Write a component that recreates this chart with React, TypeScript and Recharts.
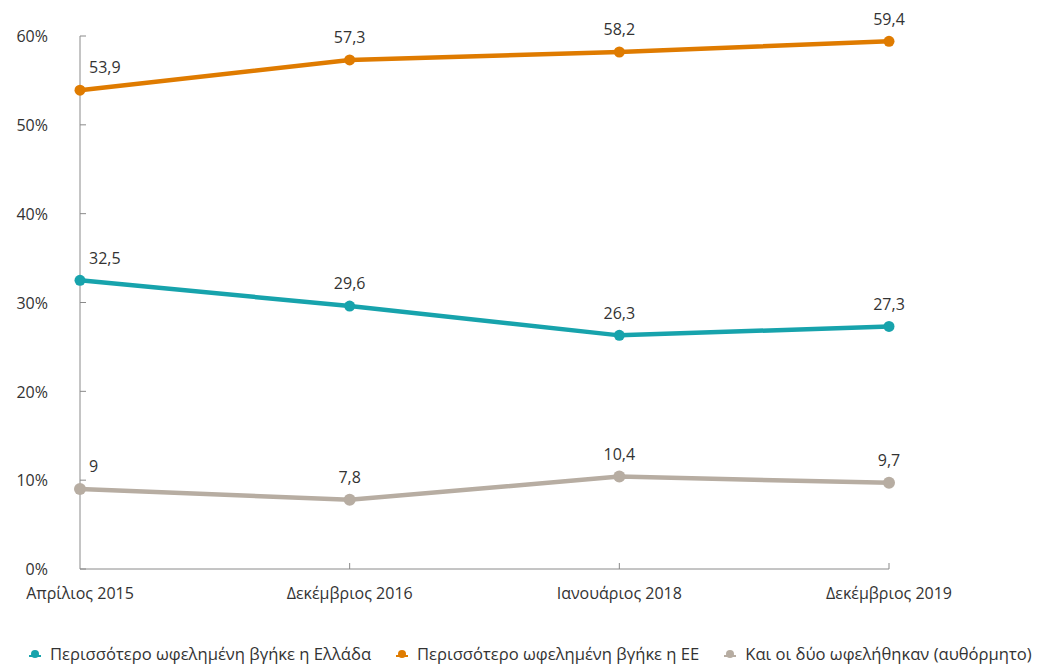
import React from "react";
import { LineChart, Line, XAxis, YAxis, Legend, LabelList } from "recharts";

const categories = ["Απρίλιος 2015", "Δεκέμβριος 2016", "Ιανουάριος 2018", "Δεκέμβριος 2019"];
const greece = [32.5, 29.6, 26.3, 27.3];
const eu = [53.9, 57.3, 58.2, 59.4];
const both = [9, 7.8, 10.4, 9.7];
const yTicks = [0, 10, 20, 30, 40, 50, 60];

const seriesNames = {
  greece: "Περισσότερο ωφελημένη βγήκε η Ελλάδα",
  eu: "Περισσότερο ωφελημένη βγήκε η ΕΕ",
  both: "Και οι δύο ωφελήθηκαν (αυθόρμητο)",
};

const COLORS = { greece: "#17a3ac", eu: "#df7b00", both: "#b7ada2" };
const FONT = "'Open Sans', sans-serif";
const TEXT = "#333333";
const AXIS = "#8a8a8a";

const data = categories.map((c, i) => ({
  name: c,
  greece: greece[i],
  eu: eu[i],
  both: both[i],
}));

const fmt = (v: number) => String(v).replace(".", ",");

const YTick = (props: any) => {
  const { x, y, payload } = props;
  return (
    <g>
      <line x1={x} x2={x + 6} y1={y} y2={y} stroke={AXIS} strokeWidth={1} />
      <text x={x - 32} y={y + 2} textAnchor="end" dominantBaseline="middle" fontFamily={FONT} fontSize={16} fill={TEXT}>
        {payload.value}%
      </text>
    </g>
  );
};

const XTick = (props: any) => {
  const { x, y, payload, index } = props;
  return (
    <g>
      {index > 0 && <line x1={x} x2={x} y1={y} y2={y - 6} stroke={AXIS} strokeWidth={1} />}
      <text x={x} y={y + 26} textAnchor="middle" dominantBaseline="middle" fontFamily={FONT} fontSize={16} fill={TEXT}>
        {payload.value}
      </text>
    </g>
  );
};

const ValueLabel = (props: any) => {
  const { x, y, value, index } = props;
  const first = index === 0;
  return (
    <text
      x={first ? x + 9 : x}
      y={y - 21}
      textAnchor={first ? "start" : "middle"}
      dominantBaseline="middle"
      fontFamily={FONT}
      fontSize={16}
      fill={TEXT}
    >
      {fmt(value)}
    </text>
  );
};

const LegendContent = () => {
  const keys: ("greece" | "eu" | "both")[] = ["greece", "eu", "both"];
  return (
    <div style={{ display: "flex", alignItems: "center", paddingLeft: 28, paddingTop: 45, fontFamily: FONT, fontSize: 16.6, lineHeight: "20px", color: TEXT, whiteSpace: "nowrap", width: 1040, boxSizing: "border-box" }}>
      {keys.map((k) => (
        <div key={k} style={{ display: "flex", alignItems: "center", marginRight: 24, height: 20 }}>
          <svg width={14} height={12} style={{ marginRight: 8 }}>
            <line x1={1} x2={13} y1={8} y2={8} stroke={COLORS[k]} strokeWidth={2} />
            <circle cx={7} cy={6} r={4} fill={COLORS[k]} />
          </svg>
          <span>{seriesNames[k]}</span>
        </div>
      ))}
    </div>
  );
};

export default function App() {
  return (
    <div style={{ position: "absolute", left: 0, top: 0, width: 1040, height: 665, background: "#fff" }}>
      <LineChart width={1040} height={665} data={data} margin={{ top: 36, right: 151, left: 0, bottom: 0 }}>
        <XAxis
          dataKey="name"
          stroke={AXIS}
          tickLine={false}
          tickSize={0}
          tickMargin={0}
          height={30}
          interval={0}
          tick={<XTick />}
        />
        <YAxis
          domain={[0, 60]}
          ticks={yTicks}
          stroke={AXIS}
          tickLine={false}
          tickSize={0}
          tickMargin={0}
          width={80}
          interval={0}
          tick={<YTick />}
        />
        <Legend verticalAlign="bottom" height={66} wrapperStyle={{ left: 0, width: 1040 }} content={<LegendContent />} />
        <Line type="linear" dataKey="eu" name={seriesNames.eu} stroke={COLORS.eu} strokeWidth={4.5} dot={{ r: 5.5, fill: COLORS.eu, stroke: COLORS.eu, strokeWidth: 0 }} isAnimationActive={false}>
          <LabelList dataKey="eu" content={<ValueLabel />} />
        </Line>
        <Line type="linear" dataKey="greece" name={seriesNames.greece} stroke={COLORS.greece} strokeWidth={4.5} dot={{ r: 5.5, fill: COLORS.greece, stroke: COLORS.greece, strokeWidth: 0 }} isAnimationActive={false}>
          <LabelList dataKey="greece" content={<ValueLabel />} />
        </Line>
        <Line type="linear" dataKey="both" name={seriesNames.both} stroke={COLORS.both} strokeWidth={4.5} dot={{ r: 6, fill: COLORS.both, stroke: COLORS.both, strokeWidth: 0 }} isAnimationActive={false}>
          <LabelList dataKey="both" content={<ValueLabel />} />
        </Line>
      </LineChart>
    </div>
  );
}
